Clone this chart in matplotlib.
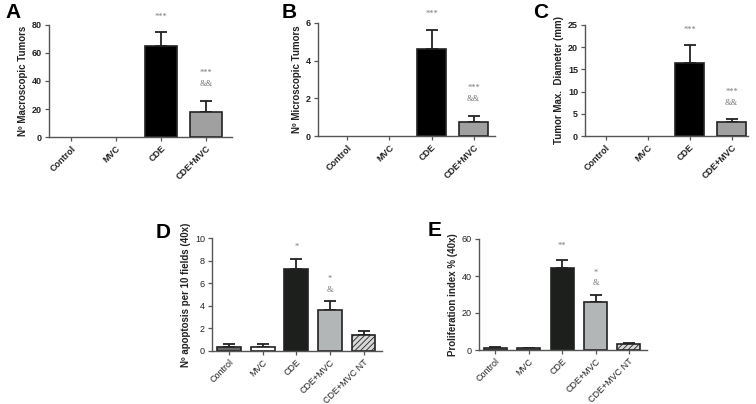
import matplotlib
matplotlib.use("Agg")
import matplotlib.pyplot as plt

plt.rcParams['font.family'] = ['Liberation Sans', 'DejaVu Sans']

## data
groups4 = ["Control", "MVC", "CDE", "CDE+MVC"]
groups5 = ["Control", "MVC", "CDE", "CDE+MVC", "CDE+MVC NT"]

macro_mean = [0, 0, 65, 18]
macro_sem = [0, 0, 10, 7.5]
micro_mean = [0, 0, 4.6, 0.72]
micro_sem = [0, 0, 1.05, 0.33]
diam_mean = [0, 0, 16.5, 3.1]
diam_sem = [0, 0, 3.9, 0.7]
apop_mean = [0.35, 0.35, 7.3, 3.6, 1.4]
apop_sem = [0.3, 0.3, 0.85, 0.85, 0.35]
prolif_mean = [1.3, 1.0, 44.5, 26, 3.0]
prolif_sem = [0.4, 0.2, 4.0, 4.0, 0.8]

# significance marks: (group index, y, text)
marks_A = [(2, 85.7, "***"), (3, 45.7, "***"), (3, 37.9, "&&")]
marks_B = [(2, 6.48, "***"), (3, 2.55, "***"), (3, 1.96, "&&")]
marks_C = [(2, 23.9, "***"), (3, 9.9, "***"), (3, 7.4, "&&")]
marks_D = [(2, 9.2, "*"), (3, 6.4, "*"), (3, 5.4, "&")]
marks_E = [(2, 56.2, "**"), (3, 41.6, "*"), (3, 36.2, "&")]

fig = plt.figure(figsize=(7.56, 4.04), dpi=100)

axis_col = "#555555"


def panel(rect, labels, mean, sem, ylim, yticks, ylabel, xlim, colors, hatches,
          marks, letter, letter_xy, bold=True, width=0.7):
    ax = fig.add_axes(rect)
    x = list(range(len(labels)))
    fw = "bold" if bold else "normal"
    for i in x:
        if mean[i] == 0 and sem[i] == 0:
            continue
        ax.bar(i, mean[i], width=width, color=colors[i], edgecolor="#222222",
               linewidth=1.2, hatch=hatches[i], zorder=2)
        ax.errorbar(i, mean[i], yerr=[[0], [sem[i]]], fmt="none", ecolor="#222222",
                    elinewidth=1.3, capsize=4, capthick=1.3, zorder=1)
    ax.set_xlim(*xlim)
    ax.set_ylim(*ylim)
    ax.set_yticks(yticks)
    ax.set_xticks(x)
    ax.set_xticklabels(labels, rotation=45, ha="right", rotation_mode="anchor",
                       fontsize=6.5, fontweight=fw, color="#222222")
    for t in ax.get_yticklabels():
        t.set_fontsize(6.5)
        t.set_fontweight(fw)
        t.set_color("#222222")
    ax.set_ylabel(ylabel, fontsize=7, fontweight="bold", color="#222222", labelpad=3)
    for s in ["top", "right"]:
        ax.spines[s].set_visible(False)
    for s in ["left", "bottom"]:
        ax.spines[s].set_color(axis_col)
        ax.spines[s].set_linewidth(1.0)
    ax.tick_params(axis="both", direction="out", length=3, width=0.9, color=axis_col, pad=2)
    for gi, yy, txt in marks:
        ax.text(gi, yy, txt, ha="center", va="center", fontsize=6, color="#777777",
                family="Liberation Serif", clip_on=False)
    fig.text(letter_xy[0] / 756, 1 - letter_xy[1] / 404, letter, fontsize=15,
             fontweight="bold", ha="center", va="center")
    return ax


c4 = ["white", "white", "black", "#a0a0a0"]
h4 = [None, None, None, None]

panel([49 / 756, 1 - 137 / 404, 183 / 756, 112 / 404], groups4, macro_mean, macro_sem,
      (0, 80), [0, 20, 40, 60, 80], "Nº Macroscopic Tumors", (-0.49, 3.58),
      c4, h4, marks_A, "A", (13, 13), width=0.71)

panel([318 / 756, 1 - 136 / 404, 177 / 756, 113 / 404], groups4, micro_mean, micro_sem,
      (0, 6), [0, 2, 4, 6], "Nº Microscopic Tumors", (-0.70, 3.51),
      c4, h4, marks_B, "B", (289, 12), width=0.69)

panel([585 / 756, 1 - 136 / 404, 163 / 756, 111 / 404], groups4, diam_mean, diam_sem,
      (0, 25), [0, 5, 10, 15, 20, 25], "Tumor Max.  Diameter (mm)", (-0.49, 3.39),
      c4, h4, marks_C, "C", (541, 12), width=0.69)

c5_d = ["#6a6a6a", "white", "#1c1f1c", "#b3b6b6", "#d8d8d8"]
c5_e = ["#8a8a8a", "#8a8a8a", "#1c1f1c", "#b3b6b6", "#d8d8d8"]
h5 = [None, None, None, None, "//////"]

plt.rcParams['hatch.linewidth'] = 0.6

panel([212 / 756, 1 - 351 / 404, 170 / 756, 113 / 404], groups5, apop_mean, apop_sem,
      (0, 10), [0, 2, 4, 6, 8, 10], "Nº apoptosis per 10 fields (40x)", (-0.51, 4.55),
      c5_d, h5, marks_D, "D", (163, 233), bold=False, width=0.71)

panel([479 / 756, 1 - 350 / 404, 168 / 756, 111 / 404], groups5, prolif_mean, prolif_sem,
      (0, 60), [0, 20, 40, 60], "Proliferation index % (40x)", (-0.49, 4.54),
      c5_e, h5, marks_E, "E", (435, 231), bold=False, width=0.69)

fig.savefig("out.png", dpi=100)
